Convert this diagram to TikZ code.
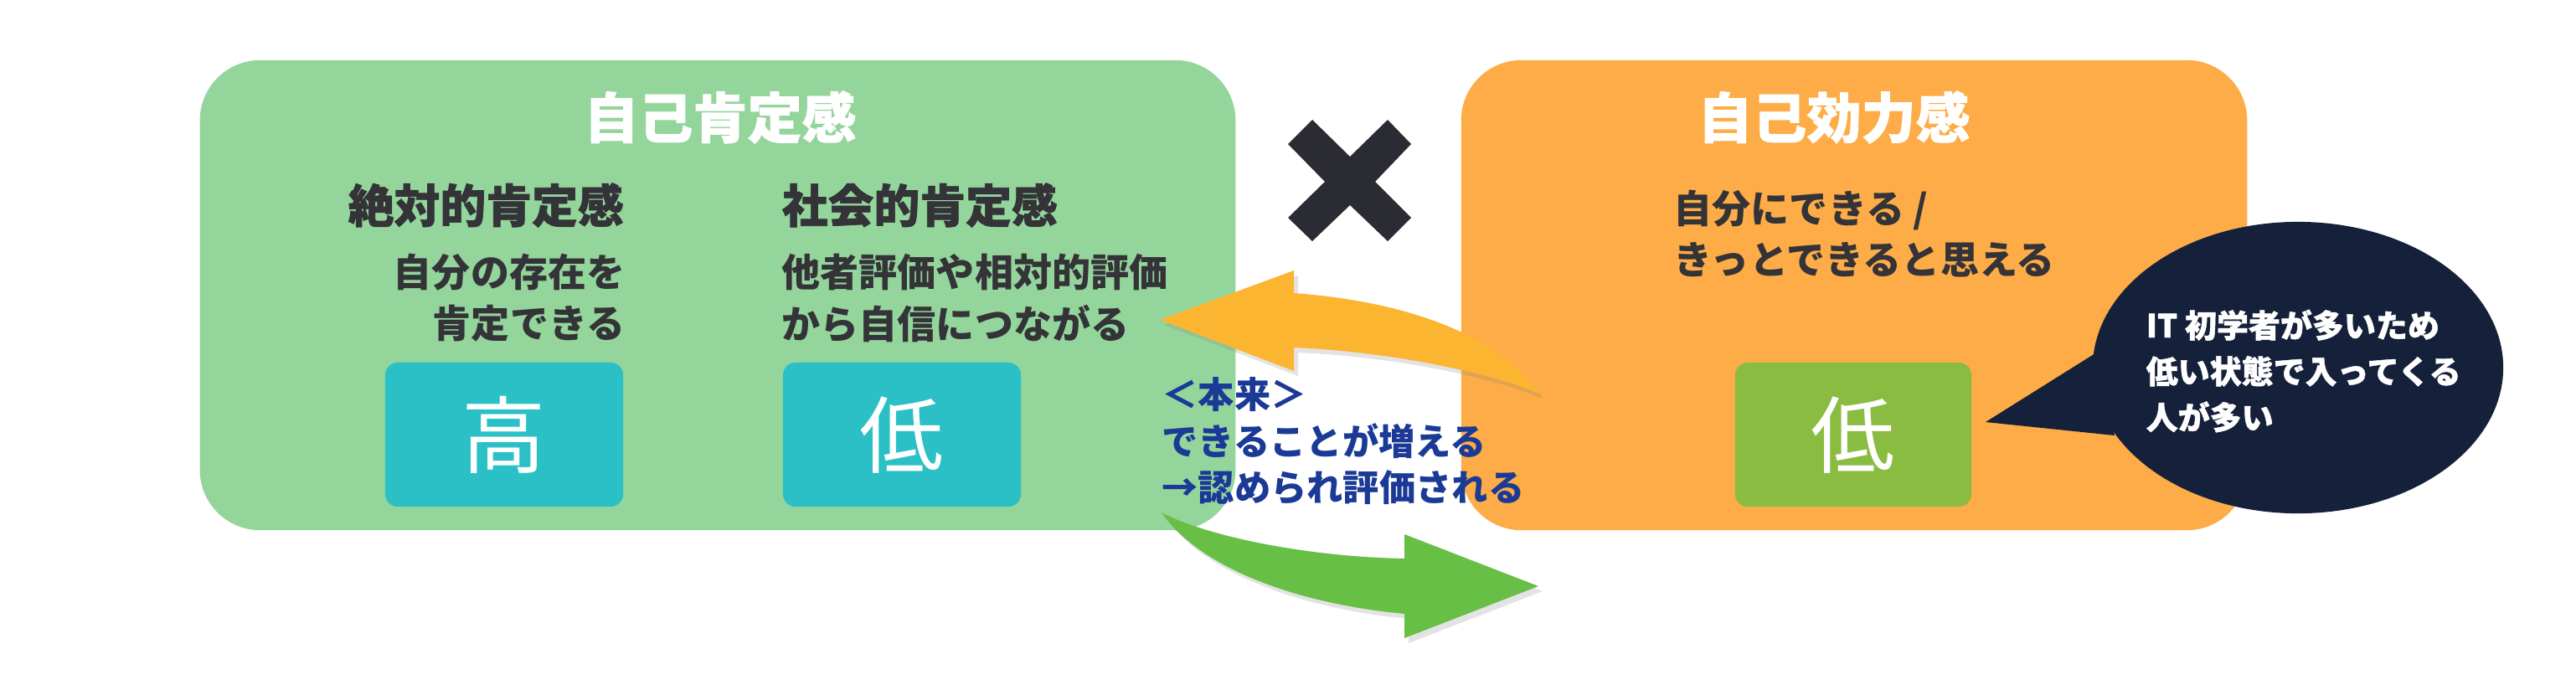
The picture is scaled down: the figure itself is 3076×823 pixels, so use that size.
\documentclass[tikz,border=0pt]{standalone}
\usepackage{fontspec}
\setmainfont{Noto Sans CJK JP}
\newfontfamily\jpheavy{Noto Sans CJK JP}[BoldFeatures={FakeBold=1.2}]
\usetikzlibrary{shadows}
\definecolor{boxgreen}{HTML}{94D59C}
\definecolor{boxorange}{HTML}{FDAC47}
\definecolor{valteal}{HTML}{2BC0C6}
\definecolor{valgreen}{HTML}{8BBC42}
\definecolor{bubblenavy}{HTML}{15213A}
\definecolor{arroworange}{HTML}{FBB530}
\definecolor{arrowgreen}{HTML}{67BF46}
\definecolor{bluetext}{HTML}{1A3A96}
\definecolor{darktext}{HTML}{333338}
\definecolor{crossgray}{HTML}{2B2C33}
\begin{document}
\begin{tikzpicture}[x=0.01cm,y=-0.01cm,
  bigbox/.style={rounded corners=0.72cm, inner sep=0pt, minimum height=5.61cm},
  valbox/.style={rounded corners=0.15cm, inner sep=0pt, minimum width=2.84cm, minimum height=1.72cm,
    text=white, font=\fontsize{28.5}{30}\selectfont},
  titletext/.style={inner sep=0pt, text=white, font=\fontsize{18.5}{20}\selectfont\jpheavy\bfseries},
  headtext/.style={inner sep=0pt, text=darktext, font=\fontsize{15.6}{17}\selectfont\jpheavy\bfseries},
  bodytext/.style={inner sep=0pt, text=darktext, font=\fontsize{13.1}{17.4}\selectfont\bfseries},
  bubbletext/.style={inner sep=0pt, text=white, align=left, font=\fontsize{10.8}{15.6}\selectfont\jpheavy\bfseries},
  bluenote/.style={inner sep=0pt, text=bluetext, align=left, font=\fontsize{12.3}{15.8}\selectfont\bfseries},
  arrowshadow/.style={drop shadow={opacity=0.22, shadow xshift=0.05cm, shadow yshift=-0.06cm}}
]
\useasboundingbox (0,0) rectangle (3076,823);
\fill[white] (0,0) rectangle (3076,823);

% main boxes
\node[bigbox, fill=boxgreen, minimum width=12.36cm] (selfaff) at (857,352.5) {};
\node[bigbox, fill=boxorange, minimum width=9.38cm] (selfeff) at (2214,352.5) {};

% titles
\node[titletext] (t1) at (860,140) {自己肯定感};
\node[titletext] (t2) at (2190,140) {自己効力感};

% green box contents
\node[headtext, anchor=west] (h1) at (415,245) {絶対的肯定感};
\node[headtext, anchor=west] (h2) at (933,245) {社会的肯定感};
\node[bodytext, anchor=east, align=right] (b1) at (747,356) {自分の存在を\\肯定できる};
\node[bodytext, anchor=west, align=left] (b2) at (933,356) {他者評価や相対的評価\\から自信につながる};
\node[valbox, fill=valteal] (v1) at (602,519) {高};
\node[valbox, fill=valteal] (v2) at (1077,519) {低};

% orange box contents
\node[bodytext, anchor=west, align=left] (b3) at (1998,279) {自分にできる /\\きっとできると思える};
\node[valbox, fill=valgreen, minimum width=2.82cm] (v3) at (2213,519) {低};

% cross mark
\fill[crossgray] (1538,172) -- (1567,143) -- (1612,187) -- (1657,143) -- (1685,172) -- (1642,217)
  -- (1685,260) -- (1657,288) -- (1612,245) -- (1567,288) -- (1538,260) -- (1582,217) -- cycle;

% orange arrow (to the left)
\fill[arroworange, arrowshadow] (1385,382) -- (1545,323) -- (1545,350)
  .. controls (1680,360) and (1790,400) .. (1837,470)
  .. controls (1780,445) and (1660,420) .. (1545,415)
  -- (1545,443) -- cycle;

% green arrow (to the right)
\fill[arrowgreen, arrowshadow] (1387,612)
  .. controls (1440,640) and (1560,665) .. (1677,667)
  -- (1677,638) -- (1837,700) -- (1677,762) -- (1677,733)
  .. controls (1540,720) and (1430,675) .. (1387,612) -- cycle;

% blue note
\node[bluenote, anchor=west] (note) at (1387,527) {＜本来＞\\できることが増える\\→認められ評価される};

% speech bubble
\fill[bubblenavy] (2744,439) ellipse [x radius=2.45cm, y radius=1.74cm];
\fill[bubblenavy] (2371,504) -- (2505,420) -- (2525,520) -- cycle;
\node[bubbletext, anchor=west] (bub) at (2562,443) {IT 初学者が多いため\\低い状態で入ってくる\\人が多い};
\end{tikzpicture}
\end{document}
